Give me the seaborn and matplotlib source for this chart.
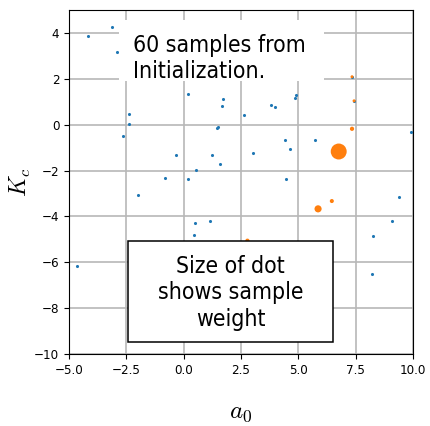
import matplotlib
matplotlib.use("Agg")
import matplotlib.pyplot as plt
from matplotlib.patches import Rectangle
import seaborn as sns

# blue: all initialization samples
blue_x = [-4.18, -3.14, -2.89, 0.20, 1.73, 1.69, 2.63, -2.40, -2.40, -2.65,
          1.50, 1.47, -0.35, 1.25, 1.57, 0.55, -0.81, 0.18, 7.34, 4.90,
          4.86, 3.82, 3.97, 7.43, 9.90, 4.43, 5.73, 4.65, 3.02, 4.47,
          -1.99, 0.50, 1.15, 0.47, -4.64, 9.39, 9.07, 8.27, 8.20]
blue_y = [3.85, 4.27, 3.18, 1.34, 1.13, 0.80, 0.42, 0.45, 0.02, -0.50,
          -0.09, -0.13, -1.32, -1.34, -1.73, -1.99, -2.31, -2.37, 2.09, 1.29,
          1.15, 0.84, 0.78, 1.04, -0.31, -0.66, -0.68, -1.06, -1.25, -2.38,
          -3.07, -4.27, -4.19, -4.83, -6.18, -3.14, -4.22, -4.87, -6.53]

# orange: samples with non-negligible weight
orange_x = [6.76, 5.86, 6.46, 7.34, 7.43, 7.34, 2.78]
orange_y = [-1.17, -3.67, -3.33, -0.18, 1.04, 2.09, -5.06]
orange_w = [0.85, 0.17, 0.055, 0.06, 0.03, 0.03, 0.06]

plt.rcParams['font.family'] = 'DejaVu Sans'
plt.rcParams['font.stretch'] = 'condensed'
plt.rcParams['mathtext.fontset'] = 'cm'

fig = plt.figure(figsize=(4.30, 4.26), dpi=100)
ax = fig.add_axes([0.1605, 0.169, 0.8, 0.8075])

sns.scatterplot(x=blue_x, y=blue_y, s=5, color='tab:blue', linewidth=0, ax=ax)
sns.scatterplot(x=orange_x, y=orange_y, s=[w * 155 for w in orange_w],
                color='tab:orange', linewidth=0, ax=ax)

ax.set_xlim(-5, 10)
ax.set_ylim(-10, 5)
ax.set_xticks([-5, -2.5, 0, 2.5, 5, 7.5, 10])
ax.set_xticklabels(['−5.0', '−2.5', '0.0', '2.5', '5.0', '7.5', '10.0'])
ax.set_yticks([4, 2, 0, -2, -4, -6, -8, -10])
ax.tick_params(labelsize=9.5)
ax.grid(True, color='#b8b8b8', lw=1.2)
ax.set_axisbelow(True)

ax.set_xlabel('$a_0$', fontsize=18, labelpad=17)
ax.set_ylabel('$K_c$', fontsize=17, labelpad=1)

# note boxes (axes fractions)
ax.add_patch(Rectangle((0.1453, 0.7936), 0.596, 0.1774, transform=ax.transAxes,
                       fc='white', ec='none', zorder=4))
ax.text(0.187, 0.931, '60 samples from\nInitialization.', fontsize=16.5,
        va='top', ha='left', transform=ax.transAxes, zorder=5)

ax.add_patch(Rectangle((0.1724, 0.0358), 0.5942, 0.2927, transform=ax.transAxes,
                       fc='white', ec='black', lw=1.1, zorder=4))
ax.text(0.4695, 0.178, 'Size of dot\nshows sample\nweight', fontsize=16.5,
        va='center', ha='center', multialignment='center',
        transform=ax.transAxes, zorder=5)

fig.savefig('out.png', dpi=100)
